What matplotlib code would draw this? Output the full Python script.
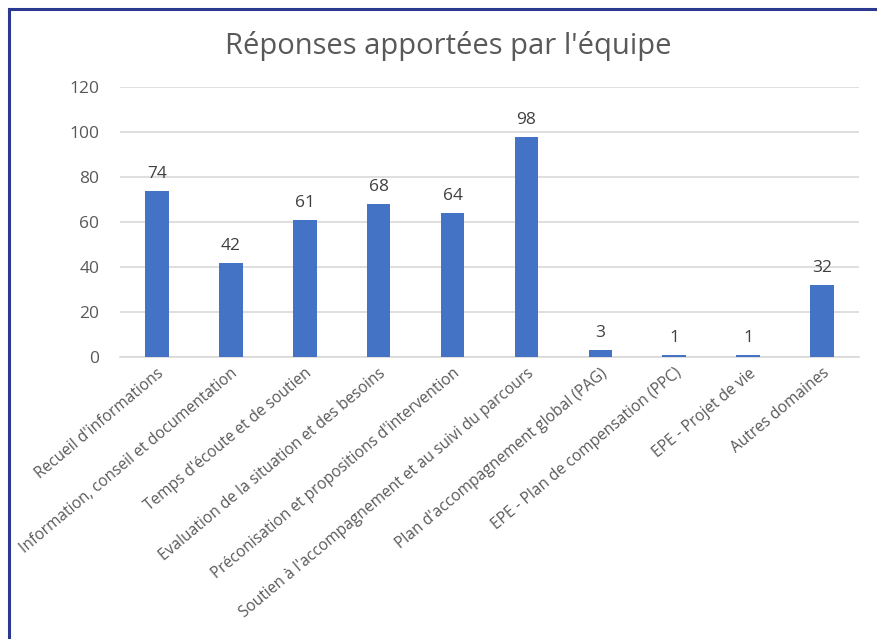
import matplotlib.pyplot as plt
from matplotlib.lines import Line2D

categories = [
    "Recueil d'informations",
    "Information, conseil et documentation",
    "Temps d'écoute et de soutien",
    "Evaluation de la situation et des besoins",
    "Préconisation et propositions d'intervention",
    "Soutien à l'accompagnement et au suivi du parcours",
    "Plan d'accompagnement global (PAG)",
    "EPE - Plan de compensation (PPC)",
    "EPE - Projet de vie",
    "Autres domaines",
]
values = [74, 42, 61, 68, 64, 98, 3, 1, 1, 32]
yticks = [0, 20, 40, 60, 80, 100, 120]

plt.rcParams["font.family"] = ["Open Sans", "DejaVu Sans"]

fig = plt.figure(figsize=(8.77, 6.39), dpi=100)
ax = fig.add_axes([0.1368, 0.4413, 0.8427, 0.4225])

x = range(len(categories))
bars = ax.bar(x, values, width=0.32, color="#4472C4", zorder=3)
for b, v in zip(bars, values):
    ax.text(b.get_x() + b.get_width() / 2, v + 4, str(v), ha="center", va="bottom",
            fontsize=12.5, color="#404040")

ax.set_xlim(-0.5, len(categories) - 0.5)
ax.set_ylim(0, 120)
ax.set_yticks(yticks)
ax.yaxis.grid(True, color="#D9D9D9", linewidth=1.2, zorder=0)
ax.tick_params(axis="y", length=0, pad=15, labelsize=12.5, labelcolor="#595959")
ax.tick_params(axis="x", length=0, pad=6)
ax.set_xticks(list(x))
ax.set_xticklabels(categories, rotation=40, ha="right", rotation_mode="anchor",
                   fontsize=11.2, color="#595959")
for s in ["top", "right", "left"]:
    ax.spines[s].set_visible(False)
ax.spines["bottom"].set_color("#D9D9D9")
ax.spines["bottom"].set_linewidth(1.2)

fig.text(0.511, 0.928, "Réponses apportées par l'équipe", ha="center", va="center",
         fontsize=21, color="#595959")

# frame lines along the left and top edges
fig.add_artist(Line2D([0.0103, 0.0103], [0, 0.986], transform=fig.transFigure,
                      color="#2B3990", linewidth=2.2))
fig.add_artist(Line2D([0.0103, 1.0], [0.986, 0.986], transform=fig.transFigure,
                      color="#2B3990", linewidth=2.2))

fig.savefig("out.png", dpi=100, facecolor="white")
